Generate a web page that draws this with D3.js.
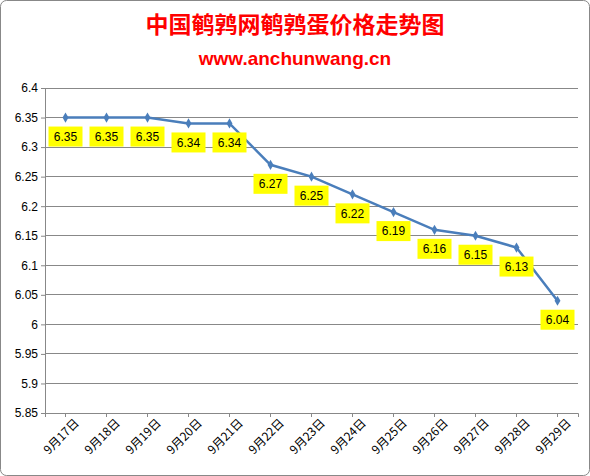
<!DOCTYPE html>
<html><head><meta charset="utf-8">
<script src="https://cdn.jsdelivr.net/npm/d3@7"></script>
<style>body{margin:0;background:#fff}</style></head>
<body><svg id="c" width="590" height="476"></svg>
<script>
const categories=["9月17日","9月18日","9月19日","9月20日","9月21日","9月22日","9月23日","9月24日","9月25日","9月26日","9月27日","9月28日","9月29日"];
const values=[6.35,6.35,6.35,6.34,6.34,6.27,6.25,6.22,6.19,6.16,6.15,6.13,6.04];
const yTicks=[5.85,5.9,5.95,6,6.05,6.1,6.15,6.2,6.25,6.3,6.35,6.4];
const title="中国鹌鹑网鹌鹑蛋价格走势图", subtitle="www.anchunwang.cn";
const svg=d3.select("#c");
svg.append("rect").attr("x",0.5).attr("y",0.5).attr("width",589).attr("height",475).attr("rx",6).attr("fill","#fff").attr("stroke","#888");
const L=45,R=578,T=88,B=413;
const x=d3.scaleBand().domain(categories).range([L,R]);
const y=d3.scaleLinear().domain([5.85,6.4]).range([B,T]);
svg.append("text").attr("x",295).attr("y",33).attr("text-anchor","middle").attr("fill","#ff0000").attr("font-size",23).attr("font-weight","bold").attr("font-family","Noto Sans CJK SC").text(title);
svg.append("text").attr("x",295).attr("y",65).attr("text-anchor","middle").attr("fill","#ff0000").attr("font-size",19).attr("font-weight","bold").attr("font-family","Liberation Sans").text(subtitle);
svg.append("g").selectAll("line").data(yTicks).join("line").attr("x1",L).attr("x2",R).attr("y1",d=>y(d)).attr("y2",d=>y(d)).attr("stroke","#888").attr("stroke-width",1).attr("shape-rendering","crispEdges");
svg.append("line").attr("x1",L).attr("x2",L).attr("y1",T).attr("y2",B).attr("stroke","#888").attr("shape-rendering","crispEdges");
const ya=svg.append("g").attr("transform",`translate(${L},0)`).call(d3.axisLeft(y).tickValues(yTicks).tickFormat(d=>String(+d.toFixed(2))).tickSize(4));
ya.select(".domain").remove();ya.selectAll("line").attr("stroke","#888");
ya.selectAll("text").attr("font-size",12).attr("font-family","Liberation Sans").attr("fill","#000");
const xa=svg.append("g").attr("transform",`translate(0,${B})`).call(d3.axisBottom(x).tickSize(4));
xa.select(".domain").attr("stroke","#888");xa.selectAll("line").attr("stroke","#888");
xa.selectAll("text").attr("font-size",12).attr("font-family","Noto Sans CJK SC").attr("fill","#000")
 .attr("text-anchor","end").attr("dx","0.2em").attr("dy","0.9em").attr("transform","rotate(-45)");
const cx=d=>x(d)+x.bandwidth()/2;
svg.append("path").datum(values).attr("fill","none").attr("stroke","#4a7ebb").attr("stroke-width",2.5)
 .attr("d",d3.line().x((d,i)=>cx(categories[i])).y(d=>y(d)));
svg.append("g").selectAll("path").data(values).join("path").attr("fill","#4a7ebb")
 .attr("transform",(d,i)=>`translate(${cx(categories[i])},${y(d)})`).attr("d",d3.symbol(d3.symbolDiamond,30));
const lg=svg.append("g").selectAll("g").data(values).join("g").attr("transform",(d,i)=>`translate(${cx(categories[i])},${y(d)+19})`);
lg.append("rect").attr("x",-17).attr("y",-10).attr("width",34).attr("height",20).attr("fill","#ffff00");
lg.append("text").attr("text-anchor","middle").attr("dy","0.35em").attr("font-size",12).attr("font-family","Liberation Sans").text(d=>d.toFixed(2));
</script></body></html>
